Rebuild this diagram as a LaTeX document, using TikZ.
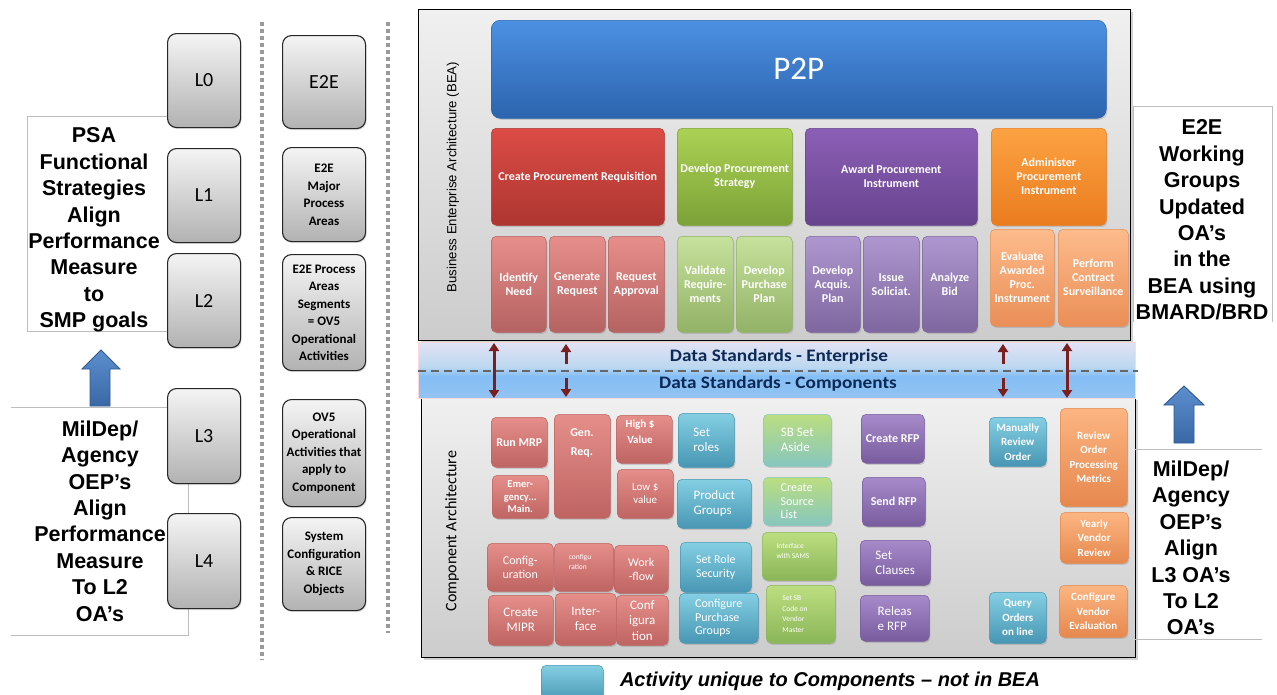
\documentclass[tikz,border=0pt]{standalone}
\usepackage{fontspec}
\setmainfont{Liberation Sans}
\newfontfamily\calfont{Carlito}
\newfontfamily\wideCal[FakeStretch=1.1]{Carlito}
\usetikzlibrary{shadows,arrows.meta}

% ---------- palette ----------
\definecolor{p2pT}{HTML}{4C90E2}\definecolor{p2pB}{HTML}{2C64AE}
\definecolor{redHT}{HTML}{DC4C46}\definecolor{redHB}{HTML}{AE3531}
\definecolor{grnHT}{HTML}{ABD154}\definecolor{grnHB}{HTML}{7CA238}
\definecolor{purHT}{HTML}{8C5FB6}\definecolor{purHB}{HTML}{67438E}
\definecolor{orgHT}{HTML}{FCA243}\definecolor{orgHB}{HTML}{EA7C1E}
\definecolor{redST}{HTML}{E78E8B}\definecolor{redSB}{HTML}{B46262}
\definecolor{grnST}{HTML}{C6E19C}\definecolor{grnSB}{HTML}{92B266}
\definecolor{purST}{HTML}{AE96CE}\definecolor{purSB}{HTML}{7E679E}
\definecolor{orgST}{HTML}{FDBB8C}\definecolor{orgSB}{HTML}{EA8E56}
\definecolor{cRedT}{HTML}{E58E8A}\definecolor{cRedB}{HTML}{BE6462}
\definecolor{cBluT}{HTML}{84CFE3}\definecolor{cBluB}{HTML}{4896B4}
\definecolor{cGrnT}{HTML}{BCDE80}\definecolor{cGrnB}{HTML}{8AB658}
\definecolor{cTeaB}{HTML}{86C6BE}
\definecolor{cPurT}{HTML}{A68ACA}\definecolor{cPurB}{HTML}{785C9E}
\definecolor{cOrgT}{HTML}{FCB582}\definecolor{cOrgB}{HTML}{E6884E}
\definecolor{panT}{HTML}{F0F0F0}\definecolor{panB}{HTML}{CCCCCC}
\definecolor{lvT}{HTML}{F4F4F4}\definecolor{lvB}{HTML}{B2B2B2}
\definecolor{bandA}{HTML}{B4C0CC}\definecolor{bandB}{HTML}{9CC6EE}
\definecolor{bandC}{HTML}{84BEF6}\definecolor{bandD}{HTML}{BCD8F0}
\definecolor{bandE}{HTML}{E2E2F4}\definecolor{bandF}{HTML}{F4E4F2}
\definecolor{dsText}{HTML}{0C2A55}
\definecolor{dsArrow}{HTML}{7A1F1F}
\definecolor{bigArT}{HTML}{5C8ECE}\definecolor{bigArB}{HTML}{3A68A6}
\definecolor{bigArD}{HTML}{2E5A8E}
\definecolor{frame}{HTML}{BDBDBD}
\definecolor{sepGray}{HTML}{9A9A9A}

\pgfdeclareverticalshading{dsband}{100bp}{color(0bp)=(bandA); color(14bp)=(bandB);
  color(45bp)=(bandC); color(53bp)=(bandD); color(75bp)=(bandE); color(100bp)=(bandF)}

% a box given by its corners: name, x1, y1, x2, y2, style, text
\newcommand\bx[7]{\node[#6,anchor=north west,minimum width={(#4)-(#2)},
  minimum height={(#5)-(#3)}] (#1) at (#2,#3) {#7};}

\tikzset{
  tile/.style={rounded corners=5pt, line width=0.5pt, inner sep=1pt, align=center,
    text=white, drop shadow={opacity=0.3,shadow xshift=1.2pt,shadow yshift=-1.6pt},
    font=\calfont\bfseries\fontsize{12}{14}\selectfont},
  bluep2p/.style={tile, rounded corners=9pt, draw=p2pB, top color=p2pT, bottom color=p2pB,
    font=\calfont\fontsize{33}{36}\selectfont},
  redH/.style={tile, draw=redHB, top color=redHT, bottom color=redHB},
  grnH/.style={tile, draw=grnHB, top color=grnHT, bottom color=grnHB},
  purH/.style={tile, draw=purHB, top color=purHT, bottom color=purHB},
  orgH/.style={tile, draw=orgHB, top color=orgHT, bottom color=orgHB},
  redS/.style={tile, draw=redSB, top color=redST, bottom color=redSB},
  grnS/.style={tile, draw=grnSB, top color=grnST, bottom color=grnSB},
  purS/.style={tile, draw=purSB, top color=purST, bottom color=purSB},
  orgS/.style={tile, draw=orgSB, top color=orgST, bottom color=orgSB},
  cRed/.style={tile, draw=cRedB, top color=cRedT, bottom color=cRedB},
  cBlue/.style={tile, draw=cBluB, top color=cBluT, bottom color=cBluB},
  cGreen/.style={tile, draw=cGrnB, top color=cGrnT, bottom color=cGrnB},
  cTeal/.style={tile, draw=cTeaB, top color=cGrnT, bottom color=cTeaB},
  cPurp/.style={tile, draw=cPurB, top color=cPurT, bottom color=cPurB},
  cOrg/.style={tile, draw=cOrgB, top color=cOrgT, bottom color=cOrgB},
  fB11/.style={font=\calfont\bfseries\fontsize{11}{14.5}\selectfont},
  fB12/.style={font=\calfont\bfseries\fontsize{12}{14}\selectfont},
  fR11/.style={font=\calfont\fontsize{11}{13}\selectfont},
  fR12/.style={font=\calfont\fontsize{12}{13.5}\selectfont},
  fR13/.style={font=\calfont\fontsize{13}{15}\selectfont},
  fTiny/.style={font=\calfont\fontsize{7.5}{10.5}\selectfont, text=white, align=left, inner sep=0pt},
  lbox/.style={rounded corners=9pt, draw=black!85, line width=1.1pt, top color=lvT,
    bottom color=lvB, align=center, inner sep=1pt,
    drop shadow={opacity=0.25,shadow xshift=1pt,shadow yshift=-1.5pt},
    font=\calfont\fontsize{20}{22}\selectfont},
  ebox/.style={lbox, font=\calfont\bfseries\fontsize{13}{17.5}\selectfont},
  panel/.style={draw=black, line width=1.1pt, top color=panT, bottom color=panB,
    drop shadow={opacity=0.35,shadow xshift=2pt,shadow yshift=-2.5pt}},
  bigtxt/.style={align=center, inner sep=0pt, font=\bfseries\fontsize{21.5}{26.4}\selectfont},
  dstxt/.style={font=\wideCal\bfseries\fontsize{17.5}{19}\selectfont, text=dsText},
  frameline/.style={draw=frame, line width=0.8pt},
  sepline/.style={draw=sepGray, line width=4.5pt, dash pattern=on 4pt off 3pt},
  dsline/.style={draw=black!60, line width=2.4pt, dash pattern=on 8pt off 5pt},
  dstip/.tip={Triangle[length=8pt,width=10pt]},
  dsarrow/.style={draw=dsArrow, line width=3pt, -dstip},
  bigarrow/.style={draw=bigArD, line width=0.9pt, top color=bigArT, bottom color=bigArB},
}

\begin{document}
\begin{tikzpicture}[x=1pt,y=-1pt]
\useasboundingbox[fill=white] (0,0) rectangle (1277,694);

% ---------- left: levels and strategy notes ----------
\draw[frameline] (167,116) -- (27,116) -- (27,331) -- (167,331);
\node[bigtxt] (psa) at (94,230) {PSA\\Functional\\Strategies\\Align\\Performance\\Measure\\to\\SMP goals};
\draw[frameline] (167,407) -- (11,407);
\draw[frameline] (11,635) -- (188,635) -- (188,483);
\node[bigtxt] (mildepL) at (100,521) {MilDep/\\Agency\\OEP’s\\Align\\Performance\\Measure\\To L2\\OA’s};
\path[bigarrow] (101,350) -- (120,369) -- (110,369) -- (110,406) -- (90,406) -- (90,369) -- (82,369) -- cycle;

\bx{L0}{167}{33}{240}{127}{lbox}{L0}
\bx{L1}{167}{148}{240}{242}{lbox}{L1}
\bx{L2}{167}{253}{240}{347}{lbox}{L2}
\bx{L3}{167}{388}{240}{483}{lbox}{L3}
\bx{L4}{167}{513}{240}{608}{lbox}{L4}

\coordinate (sepAt) at (262,22); \coordinate (sepAb) at (262,660);
\coordinate (sepBt) at (388,22); \coordinate (sepBb) at (388,633);
\draw[sepline] (sepAt) -- (sepAb);
\draw[sepline] (sepBt) -- (sepBb);

\bx{e0}{282}{35}{365}{128}{lbox}{E2E}
\bx{e1}{282}{147}{365}{241}{ebox}{E2E\\Major\\Process\\Areas}
\bx{e2}{282}{254}{365}{370}{ebox}{E2E Process\\Areas\\Segments\\= OV5\\Operational\\Activities}
\bx{e3}{282}{399}{365}{506}{ebox}{OV5\\Operational\\Activities that\\apply to\\Component}
\bx{e4}{282}{517}{365}{610}{ebox}{System\\Configuration\\\& RICE\\Objects}

% ---------- business enterprise architecture ----------
\bx{bea}{418}{9}{1130}{340}{panel}{}
\node[rotate=90, font=\fontsize{13.2}{15}\selectfont] (beaLbl) at (453,177) {Business Enterprise Architecture (BEA)};

\bx{p2p}{491}{20}{1106}{118}{bluep2p}{P2P}
\bx{cpr}{491}{128}{664}{225}{redH}{Create Procurement Requisition}
\bx{dps}{677}{128}{792}{225}{grnH}{Develop Procurement\\Strategy}
\bx{api}{805}{128}{977}{225}{purH}{Award Procurement\\Instrument}
\bx{adm}{991}{128}{1106}{225}{orgH}{Administer\\Procurement\\Instrument}

\bx{idn}{491}{236}{546}{332}{redS}{Identify\\Need}
\bx{gnr}{549}{236}{605}{332}{redS}{Generate\\Request}
\bx{rqa}{608}{236}{664}{332}{redS}{Request\\Approval}
\bx{vrq}{677}{236}{733}{332}{grnS}{Validate\\Require-\\ments}
\bx{dpp}{736}{236}{792}{332}{grnS}{Develop\\Purchase\\Plan}
\bx{dap}{805}{236}{860}{332}{purS}{Develop\\Acquis.\\Plan}
\bx{iss}{863}{236}{919}{332}{purS}{Issue\\Soliciat.}
\bx{anb}{922}{236}{977}{332}{purS}{Analyze\\Bid}
\bx{eap}{990}{229}{1054}{326}{orgS}{Evaluate\\Awarded\\Proc.\\Instrument}
\bx{pcs}{1058}{229}{1128}{326}{orgS}{Perform\\Contract\\Surveillance}

% ---------- component architecture ----------
\bx{comp}{421}{397}{1135}{657}{panel}{}
\node[rotate=90, font=\calfont\fontsize{16}{18}\selectfont] (compLbl) at (452,531) {Component Architecture};

% ---------- data standards band ----------
\bx{band}{418}{342}{1135}{398}{shading=dsband, draw=pink!60, line width=0.6pt, inner sep=0pt}{}
\coordinate (dashL) at (418,371); \coordinate (dashR) at (1138,371);
\draw[dsline] (dashL) -- (dashR);
\node[dstxt] (dsE) at (779,357) {Data Standards - Enterprise};
\node[dstxt] (dsC) at (778,384) {Data Standards - Components};

\coordinate (a1t) at (494,343); \coordinate (a1b) at (494,398);
\coordinate (a2t) at (566,344); \coordinate (a2m) at (566,364);
\coordinate (a2n) at (566,378); \coordinate (a2b) at (566,397);
\coordinate (a3t) at (1003,344); \coordinate (a3m) at (1003,364);
\coordinate (a3n) at (1003,378); \coordinate (a3b) at (1003,397);
\coordinate (a4t) at (1067,343); \coordinate (a4b) at (1067,398);
\draw[dsarrow, dstip-dstip] (a1t) -- (a1b);
\draw[dsarrow] (a2m) -- (a2t);
\draw[dsarrow] (a2n) -- (a2b);
\draw[dsarrow] (a3m) -- (a3t);
\draw[dsarrow] (a3n) -- (a3b);
\draw[dsarrow, dstip-dstip] (a4t) -- (a4b);

% red component activities
\bx{runmrp}{491}{417}{547}{467}{cRed,fB12}{Run MRP}
\bx{emerg}{492}{475}{548}{518}{cRed,font=\calfont\bfseries\fontsize{10.5}{12.5}\selectfont}{Emer-\\gency...\\Main.}
\bx{genreq}{554}{414}{610}{518}{cRed}{}
\node[font=\calfont\bfseries\fontsize{12}{19.5}\selectfont, text=white, align=center] (genreqT) at (582,443) {Gen.\\Req.};
\bx{highv}{616}{415}{672}{463}{cRed}{}
\node[font=\calfont\bfseries\fontsize{11}{16}\selectfont, text=white, align=center] (highvT) at (640,432) {High \$\\Value};
\bx{lowv}{617}{469}{673}{518}{cRed,fR11}{Low \$\\value}
\bx{cfg1}{487}{543}{553}{591}{cRed,fR12}{Config-\\uration}
\bx{cfg2}{554}{543}{613}{591}{cRed}{}
\node[fTiny] (cfg2T) at (580,562) {configu\\ration};
\bx{wflow}{614}{545}{668}{593}{cRed,fR12}{Work\\-flow}
\bx{mipr}{488}{595}{553}{645}{cRed,fR13}{Create\\MIPR}
\bx{iface}{555}{593}{616}{645}{cRed,fR13}{Inter-\\face}
\bx{cfg3}{616}{595}{668}{645}{cRed,font=\calfont\fontsize{13}{15.5}\selectfont}{Conf\\igura\\tion}

% blue component activities
\bx{setroles}{678}{413}{734}{467}{cBlue,fR13,align=left}{Set\\roles}
\bx{prodg}{677}{479}{751}{528}{cBlue,fR13,align=left}{Product\\Groups}
\bx{srsec}{680}{542}{751}{592}{cBlue,fR12}{Set Role\\Security}
\bx{cpg}{679}{593}{758}{643}{cBlue,fR12,align=left}{Configure\\Purchase\\Groups}

% green component activities
\bx{sbsa}{763}{414}{831}{466}{cTeal,fR13,align=left}{SB Set\\Aside}
\bx{csl}{763}{477}{831}{525}{cTeal,fR12,align=left}{Create\\Source\\List}
\bx{isams}{762}{532}{836}{580}{cGreen}{}
\node[fTiny] (isamsT) at (793,551) {Interface\\with SAMS};
\bx{setsb}{766}{585}{835}{643}{cGreen}{}
\node[fTiny] (setsbT) at (795,614) {Set SB\\Code on\\Vendor\\Master};

% purple component activities
\bx{crfp}{861}{414}{924}{463}{cPurp,fB12}{Create RFP}
\bx{srfp}{862}{477}{925}{526}{cPurp,fB12}{Send RFP}
\bx{sclause}{860}{540}{930}{585}{cPurp,fR13,align=left}{Set\\Clauses}
\bx{rrfp}{860}{595}{929}{641}{cPurp,fR13,align=left}{Releas\\e RFP}

% right-hand activities
\bx{mro}{989}{417}{1046}{466}{cBlue,fB11}{Manually\\Review\\Order}
\bx{ropm}{1060}{408}{1127}{506}{cOrg,fB11}{Review\\Order\\Processing\\Metrics}
\bx{yvr}{1060}{512}{1128}{563}{cOrg,fB11}{Yearly\\Vendor\\Review}
\bx{qol}{989}{592}{1046}{643}{cBlue,fB11}{Query\\Orders\\on line}
\bx{cve}{1059}{585}{1127}{637}{cOrg,fB11}{Configure\\Vendor\\Evaluation}

% ---------- right: working group notes ----------
\draw[frameline] (1133,322) -- (1133,106) -- (1272,106) -- (1272,322);
\node[bigtxt] (e2eWG) at (1202,220) {E2E\\Working\\Groups\\Updated\\OA’s\\in the\\BEA using\\BMARD/BRD};
\path[bigarrow] (1184,386) -- (1204,405) -- (1194,405) -- (1194,443) -- (1174,443) -- (1174,405) -- (1164,405) -- cycle;
\draw[frameline] (1135,449) -- (1262,449);
\draw[frameline] (1135,639) -- (1262,639);
\node[bigtxt] (mildepR) at (1191,548) {MilDep/\\Agency\\OEP’s\\Align\\L3 OA’s\\To L2\\OA’s};

% ---------- legend ----------
\bx{legend}{541}{665}{603}{702}{cBlue}{}
\node[font=\bfseries\itshape\fontsize{20}{22}\selectfont] (legendT) at (830,681) {Activity unique to Components – not in BEA};
\end{tikzpicture}
\end{document}
